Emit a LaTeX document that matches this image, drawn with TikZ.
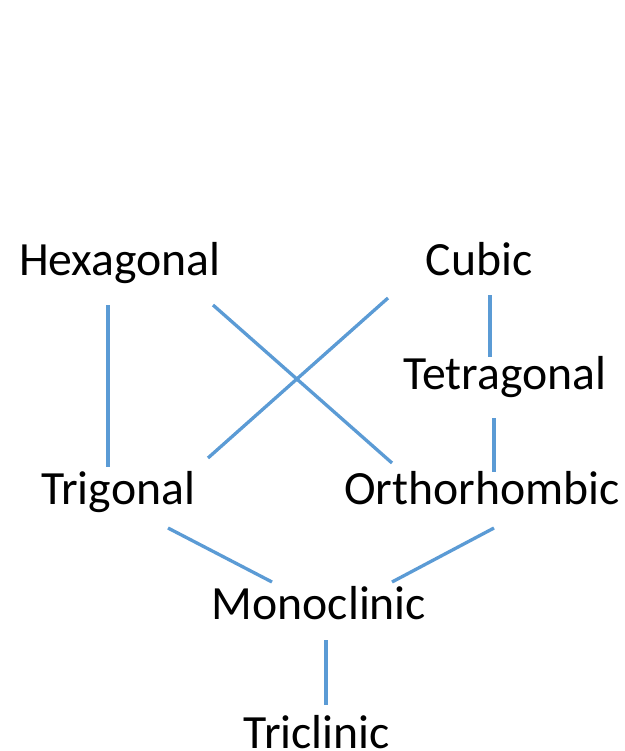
\documentclass[tikz,border=0pt]{standalone}
\usepackage{fontspec}
\setmainfont{Carlito}
\usetikzlibrary{calc}
\definecolor{linkblue}{HTML}{5B9BD5}
\begin{document}
\begin{tikzpicture}[x=1pt,y=-1pt,
  lbl/.style={font=\fontsize{47.7}{48}\selectfont, inner sep=0pt, anchor=base},
  link/.style={draw=linkblue, line width=3.3pt}]
\useasboundingbox[fill=white] (0,0) rectangle (624,751);
\node[lbl] (hex) at (120,275) {Hexagonal};
\node[lbl] (cub) at (479,275) {Cubic};
\node[lbl] (tet) at (505,389) {Tetragonal};
\node[lbl] (tri) at (118,504) {Trigonal};
\node[lbl] (ort) at (482,504) {Orthorhombic};
\node[lbl] (mon) at (319,619) {Monoclinic};
\node[lbl] (tcl) at (317,748) {Triclinic};
% connectors
\draw[link] ($(hex.base)+(-12,30)$) -- ($(tri.base)+(-10,-37)$);
\draw[link] ($(hex.base)+(93,30)$) -- ($(ort.base)+(-90,-41)$);
\draw[link] ($(cub.base)+(-91,23)$) -- ($(tri.base)+(90,-46)$);
\draw[link] ($(cub.base)+(11,20)$) -- ($(tet.base)+(-15,-32)$);
\draw[link] ($(tet.base)+(-11,29)$) -- ($(ort.base)+(12,-32)$);
\draw[link] ($(tri.base)+(50,24)$) -- ($(mon.base)+(-47,-37)$);
\draw[link] ($(ort.base)+(12,24)$) -- ($(mon.base)+(73,-37)$);
\draw[link] ($(mon.base)+(7,21)$) -- ($(tcl.base)+(9,-43)$);
\end{tikzpicture}
\end{document}
